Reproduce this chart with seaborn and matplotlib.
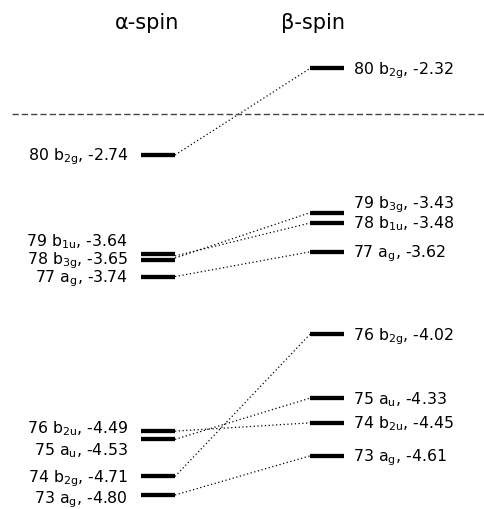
import numpy as np
import pandas as pd
import matplotlib
matplotlib.use("Agg")
import matplotlib.pyplot as plt
import matplotlib.transforms as mtransforms
import seaborn as sns

# Orbital energies (eV) for each spin manifold
alpha_labels = ["80 b$_{2g}$", "79 b$_{1u}$", "78 b$_{3g}$", "77 a$_{g}$",
                "76 b$_{2u}$", "75 a$_{u}$", "74 b$_{2g}$", "73 a$_{g}$"]
alpha_energies = [-2.74, -3.64, -3.65, -3.74, -4.49, -4.53, -4.71, -4.80]

beta_labels = ["80 b$_{2g}$", "79 b$_{3g}$", "78 b$_{1u}$", "77 a$_{g}$",
               "76 b$_{2g}$", "75 a$_{u}$", "74 b$_{2u}$", "73 a$_{g}$"]
beta_energies = [-2.32, -3.43, -3.48, -3.62, -4.02, -4.33, -4.45, -4.61]

# alpha orbital index -> beta orbital index with the same symmetry
pairs = [(0, 0), (1, 2), (2, 1), (3, 3), (4, 6), (5, 5), (6, 4), (7, 7)]

# occupied / virtual separator
separator_energy = -2.54

spin_titles = ["α-spin", "β-spin"]

# ---- layout -------------------------------------------------------------
W, H = 485, 510
AX0, AX1 = 141, 175      # alpha level extent (x)
BX0, BX1 = 310, 344      # beta level extent (x)
# vertical nudges (pixels, up positive) so close-lying labels do not collide
alpha_nudge = [0, 15, 0, 0, 3.4, -10.5, 0, -3]
beta_nudge = [0, 10, 0, 0, 0, 0, 0, 0]
# near-degenerate levels are pulled slightly apart so both bars stay visible
alpha_bar_nudge = [0, 1.8, -1.8, 0, 0, 0, 0, 0]
beta_bar_nudge = [0] * 8

sns.set_style("white")
plt.rcParams["font.family"] = ["DejaVu Sans"]
plt.rcParams["mathtext.default"] = "regular"

fig = plt.figure(figsize=(W / 100, H / 100), dpi=100)
ax = fig.add_axes([0, 0, 1, 1])

# broken energy axis: the gap between -3.40 and -2.80 eV is compressed
knots_real = np.array([-20.0, -3.40, -2.80, 20.0])
knots_eff = np.array([-20.0, -3.40, -3.21, 19.59])


def fwd(y):
    return np.interp(y, knots_real, knots_eff)


def inv(y):
    return np.interp(y, knots_eff, knots_real)


ax.set_yscale("function", functions=(fwd, inv))
ax.set_xlim(0, W)
ax.set_ylim(-4.868, -1.983)
ax.axis("off")

# correlation lines between alpha and beta levels
rows = []
for k, (ia, ib) in enumerate(pairs):
    rows += [dict(x=AX1, E=alpha_energies[ia], link=k),
             dict(x=BX0, E=beta_energies[ib], link=k)]
links = pd.DataFrame(rows)
sns.lineplot(data=links, x="x", y="E", units="link", estimator=None, sort=False,
             color="black", lw=0.9, linestyle=(0, (1, 2)), ax=ax)

# levels as short horizontal segments
for x0, x1, energies, bar_nudge in [(AX0, AX1, alpha_energies, alpha_bar_nudge),
                                    (BX0, BX1, beta_energies, beta_bar_nudge)]:
    for e, dy in zip(energies, bar_nudge):
        seg = pd.DataFrame(dict(x=[x0, x1], E=[e, e]))
        tr = mtransforms.offset_copy(ax.transData, fig=fig, x=0, y=dy, units="dots")
        sns.lineplot(data=seg, x="x", y="E", estimator=None, sort=False,
                     color="black", lw=3.1, solid_capstyle="butt",
                     transform=tr, ax=ax)

ax.hlines(separator_energy, 12, W, color="#444444", lw=1.0,
          linestyles=[(0, (4.5, 2.2))])

fs = 11.3
for lab, e, dy in zip(alpha_labels, alpha_energies, alpha_nudge):
    tr = mtransforms.offset_copy(ax.transData, fig=fig, x=0, y=dy - 4.8, units="dots")
    ax.text(128, e, f"{lab}, {e:.2f}", transform=tr, ha="right", va="baseline",
            fontsize=fs, color="black")
for lab, e, dy in zip(beta_labels, beta_energies, beta_nudge):
    tr = mtransforms.offset_copy(ax.transData, fig=fig, x=0, y=dy - 4.8, units="dots")
    ax.text(353, e, f"{lab}, {e:.2f}", transform=tr, ha="left", va="baseline",
            fontsize=fs, color="black")

for title, xc in zip(spin_titles, [147, 313]):
    ax.text(xc, 0.955, title, transform=ax.get_xaxis_transform(),
            ha="center", va="center", fontsize=15, color="black")

fig.savefig("out.png", dpi=100)
